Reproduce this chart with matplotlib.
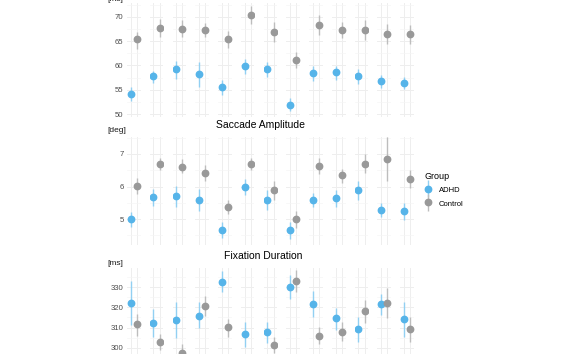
import matplotlib.pyplot as plt
from matplotlib.ticker import MultipleLocator
from matplotlib.legend_handler import HandlerErrorbar
from matplotlib.container import ErrorbarContainer

plt.rcParams['font.family'] = ['Liberation Sans', 'DejaVu Sans']

groups = ["ADHD", "Control"]

# top panel [ms] (mean, lower, upper) per task
top_adhd = [54.1, 57.8, 59.3, 58.2, 55.6, 59.8, 59.2, 52.0, 58.4, 58.6, 57.8, 56.8, 56.4]
top_adhd_lo = [52.8, 56.4, 57.3, 55.6, 53.9, 58.2, 57.6, 50.7, 56.8, 57.1, 56.3, 55.4, 55.1]
top_adhd_hi = [55.5, 58.9, 60.9, 60.7, 57.1, 61.3, 60.7, 53.4, 59.9, 59.9, 59.3, 58.0, 57.6]
top_ctrl = [65.4, 67.7, 67.5, 67.3, 65.4, 70.3, 66.9, 61.2, 68.3, 67.3, 67.3, 66.5, 66.4]
top_ctrl_lo = [63.4, 65.9, 65.9, 65.8, 63.6, 68.5, 64.8, 59.5, 66.3, 65.6, 65.2, 64.5, 64.4]
top_ctrl_hi = [66.8, 69.5, 69.4, 68.8, 67.1, 72.1, 68.9, 62.8, 70.3, 68.9, 69.3, 68.5, 68.4]

# saccade amplitude [deg]
amp_adhd = [5.0, 5.67, 5.71, 5.6, 4.66, 5.98, 5.6, 4.66, 5.58, 5.66, 5.9, 5.28, 5.25]
amp_adhd_lo = [4.76, 5.41, 5.38, 5.26, 4.41, 5.74, 5.28, 4.38, 5.36, 5.38, 5.6, 5.07, 4.97]
amp_adhd_hi = [5.22, 5.92, 6.02, 5.92, 4.9, 6.23, 5.89, 4.9, 5.79, 5.89, 6.18, 5.48, 5.5]
amp_ctrl = [6.02, 6.69, 6.61, 6.43, 5.38, 6.70, 5.89, 4.99, 6.63, 6.34, 6.69, 6.86, 6.23]
amp_ctrl_lo = [5.76, 6.51, 6.41, 6.17, 5.15, 6.51, 5.6, 4.71, 6.38, 6.12, 6.41, 6.18, 5.94]
amp_ctrl_hi = [6.27, 6.89, 6.84, 6.66, 5.6, 6.89, 6.17, 5.25, 6.87, 6.55, 7.0, 7.51, 6.51]

# fixation duration [ms]
fix_adhd = [322.0, 312.4, 313.7, 315.9, 332.8, 306.6, 307.9, 330.0, 321.7, 314.6, 309.1, 321.5, 314.2]
fix_adhd_lo = [311.2, 305.4, 304.6, 309.6, 327.5, 300.1, 302.4, 324.0, 315.4, 308.8, 302.9, 316.2, 305.4]
fix_adhd_hi = [333.1, 319.2, 322.5, 322.5, 338.1, 312.9, 312.9, 336.1, 328.2, 319.9, 315.1, 326.5, 322.8]
fix_ctrl = [311.6, 302.9, 297.1, 320.7, 310.1, 290.0, 301.2, 333.3, 305.8, 307.9, 318.2, 322.3, 309.1]
fix_ctrl_lo = [305.9, 298.8, 292.0, 315.9, 305.4, 285.0, 297.1, 327.8, 301.6, 303.3, 312.4, 314.6, 302.9]
fix_ctrl_hi = [316.7, 306.8, 301.8, 325.7, 314.2, 295.0, 305.1, 338.6, 310.1, 312.6, 323.7, 329.5, 315.4]

colors = {"ADHD": "#56B4E9", "Control": "#999999"}
bar_colors = {"ADHD": "#92D0F2", "Control": "#BDBDBD"}

W, H = 567, 354
def box(left, top, width, height):
    return [left / W, 1 - (top + height) / H, width / W, height / H]

rows = [
    dict(data=[(top_adhd, top_adhd_lo, top_adhd_hi), (top_ctrl, top_ctrl_lo, top_ctrl_hi)],
         ylim=(49.4, 72.8), top=3.06, bottom=117.2, major=5, minor=2.5,
         unit="[ms]", unit_y=-0.5, title=None),
    dict(data=[(amp_adhd, amp_adhd_lo, amp_adhd_hi), (amp_ctrl, amp_ctrl_lo, amp_ctrl_hi)],
         ylim=(4.2, 7.52), top=137.1, bottom=245, major=1, minor=0.5,
         unit="[deg]", unit_y=130, title="Saccade Amplitude", title_xy=(261, 125.5)),
    dict(data=[(fix_adhd, fix_adhd_lo, fix_adhd_hi), (fix_ctrl, fix_ctrl_lo, fix_ctrl_hi)],
         ylim=(291, 339.7), top=267.8, bottom=365.7, major=10, minor=5,
         unit="[ms]", unit_y=263.7, title="Fixation Duration", title_xy=(263.5, 256)),
]

fig = plt.figure(figsize=(5.67, 3.54), dpi=100)

n_tasks = len(top_adhd)
step = 22.77
fw = 13.64
handles = []
for r in rows:
    for i in range(n_tasks):
        ax = fig.add_axes(box(127 + i * step, r["top"], fw, r["bottom"] - r["top"]))
        for g, (m, lo, hi) in enumerate(r["data"]):
            name = groups[g]
            eb = ax.errorbar(g + 1, m[i], yerr=[[m[i] - lo[i]], [hi[i] - m[i]]], fmt="o",
                             color=colors[name], ecolor=bar_colors[name],
                             markersize=4.6, elinewidth=1.0, capsize=0, zorder=3)
            if len(handles) < 2:
                handles.append(eb)
        ax.set_xlim(0.4, 2.6)
        ax.set_ylim(*r["ylim"])
        ax.set_xticks([1, 2])
        ax.yaxis.set_major_locator(MultipleLocator(r["major"]))
        ax.yaxis.set_minor_locator(MultipleLocator(r["minor"]))
        ax.grid(which="major", color="#EEEEEE", linewidth=0.7)
        ax.grid(which="minor", axis="y", color="#F5F5F5", linewidth=0.45)
        ax.set_axisbelow(True)
        for s in ax.spines.values():
            s.set_visible(False)
        ax.tick_params(which="both", length=0, labelbottom=False,
                       labelsize=5.6, labelcolor="#4D4D4D", pad=2.5)
        if i > 0:
            ax.tick_params(labelleft=False)
    fig.text(107 / W, 1 - r["unit_y"] / H, r["unit"], ha="left", va="center",
             fontsize=6, color="#1A1A1A")
    if r["title"]:
        tx, ty = r["title_xy"]
        fig.text(tx / W, 1 - ty / H, r["title"], ha="center", va="center",
                 fontsize=7.5, color="black")

fig.legend(handles, groups, title="Group", loc="upper left",
           bbox_to_anchor=(421.5 / W, 1 - 169 / H), frameon=False,
           fontsize=5.5, title_fontsize=6.5, alignment="left",
           handlelength=1.0, handleheight=1.5, handletextpad=0.9,
           labelspacing=0.55, borderaxespad=0,
           handler_map={ErrorbarContainer: HandlerErrorbar(yerr_size=1.1)})

fig.savefig("out.png", dpi=100)
